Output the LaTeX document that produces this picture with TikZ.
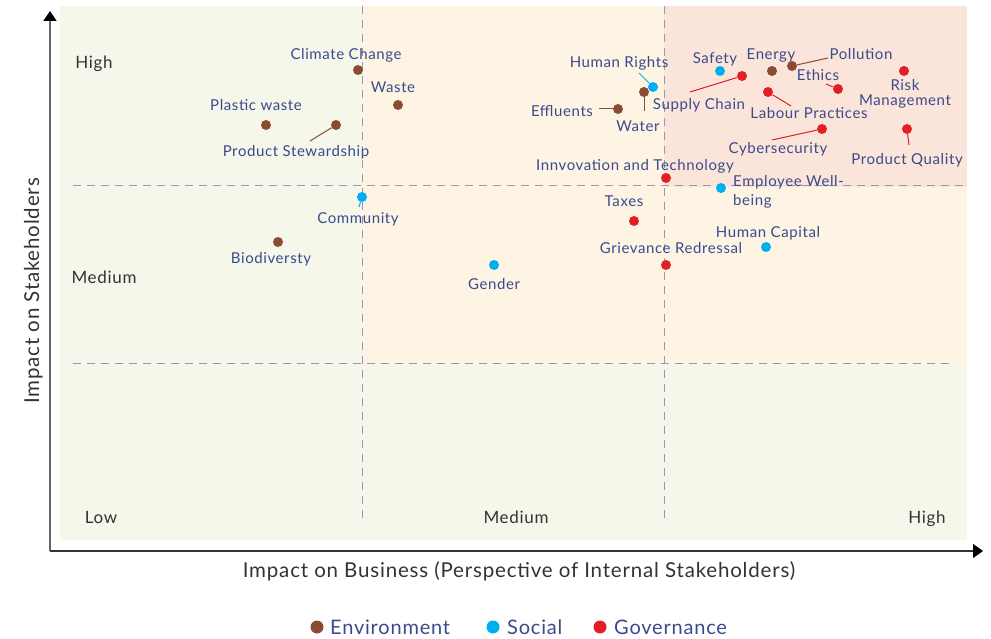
\documentclass[tikz,border=0pt]{standalone}
\usepackage{fontspec}
\setmainfont{Lato}[LetterSpace=4.0]
\usetikzlibrary{arrows.meta}
\definecolor{navy}{HTML}{3B4A8C}
\definecolor{envc}{HTML}{8B4A32}
\definecolor{socc}{HTML}{00AEEF}
\definecolor{govc}{HTML}{E31E26}
\definecolor{bggreen}{HTML}{F4F7EA}
\definecolor{bgorange}{HTML}{FEF4E4}
\definecolor{bgpink}{HTML}{FBE5DA}
\definecolor{dashc}{HTML}{9A97B6}
\definecolor{cornc}{HTML}{333333}
\tikzset{
  dot/.style={circle,inner sep=0pt,minimum size=10pt,draw=none},
  env/.style={dot,fill=envc},
  soc/.style={dot,fill=socc},
  gov/.style={dot,fill=govc},
  legdot/.style={circle,inner sep=0pt,minimum size=13pt,draw=none},
  lbl/.style={text=navy,font=\fontsize{15}{15}\selectfont,inner sep=0pt,text height=8pt,text depth=4pt,yshift=-4pt},
  mlbl/.style={text=navy,inner sep=0pt,yshift=-2pt},
  corner/.style={text=cornc,font=\fontsize{17}{19}\selectfont,inner sep=0pt,text height=8pt,text depth=4pt,yshift=-4.5pt},
  axt/.style={text=cornc,font=\fontsize{20.5}{22}\selectfont,inner sep=0pt,text height=10pt,text depth=4pt},
  legt/.style={text=navy,font=\fontsize{20}{22}\selectfont,inner sep=0pt,text height=10pt,text depth=4pt,anchor=west},
  envline/.style={draw=envc,line width=1pt},
  socline/.style={draw=socc,line width=1pt},
  govline/.style={draw=govc,line width=1pt},
  dashline/.style={draw=dashc,line width=1pt,dash pattern=on 8pt off 6pt},
}
\begin{document}
\begin{tikzpicture}[x=1pt,y=-1pt]
\useasboundingbox (0,0) rectangle (991,639);
% backgrounds
\fill[bggreen] (60,6) rectangle (967,540);
\fill[bgorange] (362,6) rectangle (967,363);
\fill[bgpink] (664,6) rectangle (967,187);
% dashed grid
\draw[dashline] (73,186) -- (965,186);
\draw[dashline] (73,363) -- (955,363);
\draw[dashline] (362,6) -- (362,523);
\draw[dashline] (664,6) -- (664,523);
% axes
\coordinate (org) at (50,551);
\coordinate (ytip) at (50,11);
\coordinate (xtip) at (983,551);
\draw[draw=black!60,line width=1.6pt,-{Triangle[length=10pt,width=13pt,color=black]}] (org) -- (ytip);
\draw[draw=black!80,line width=1.4pt,-{Triangle[length=10pt,width=14pt,color=black]}] (org) -- (xtip);
\node[axt,rotate=90] (yt) at (36,291) {Impact on Stakeholders};
\node[axt] (xt) at (519,574) {Impact on Business (Perspective of Internal Stakeholders)};
% corner labels
\node[corner] (yhigh) at (94,62) {High};
\node[corner] (ymed) at (104,277) {Medium};
\node[corner] (xlow) at (101,517) {Low};
\node[corner] (xmed) at (516,517) {Medium};
\node[corner] (xhigh) at (927,517) {High};

% Environment
\node[env] (cc) at (358,70) {};
\node[lbl] (ccl) at (346,54) {Climate Change};
\node[env] (wa) at (398,105) {};
\node[lbl] (wal) at (393,87) {Waste};
\node[env] (pw) at (266,125) {};
\node[lbl] (pwl) at (256,105) {Plastic waste};
\node[env] (ps) at (336,125) {};
\node[lbl] (psl) at (296,151) {Product Stewardship};
\coordinate (pse) at (310,141);
\draw[envline] (ps) -- (pse);
\node[env] (bd) at (278,242) {};
\node[lbl] (bdl) at (271,258) {Biodiversty};
\node[env] (ef) at (618,109) {};
\node[lbl] (efl) at (562,111) {Effluents};
\coordinate (efe) at (599,109);
\draw[envline] (ef) -- (efe);
\node[env] (wt) at (644,92) {};
\node[lbl] (wtl) at (638,126) {Water};
\coordinate (wte) at (644,111);
\draw[envline] (wt) -- (wte);
\node[env] (en) at (772,71) {};
\node[lbl] (enl) at (771,54) {Energy};
\node[env] (po) at (792,66) {};
\node[lbl] (pol) at (861,54) {Pollution};
\coordinate (poe) at (828,58);
\draw[envline] (po) -- (poe);

% Social
\node[soc] (hr) at (653,87) {};
\node[lbl] (hrl) at (619,62) {Human Rights};
\coordinate (hre) at (639,73);
\draw[socline] (hr) -- (hre);
\node[soc] (sa) at (720,71) {};
\node[lbl] (sal) at (715,58) {Safety};
\node[soc] (co) at (362,197) {};
\node[lbl] (col) at (358,218) {Community};
\coordinate (coe) at (359,207);
\draw[socline] (co) -- (coe);
\node[soc] (ew) at (721,188) {};
\node[mlbl,align=left,anchor=west,font=\fontsize{15}{18.5}\selectfont] (ewl) at (733,190) {Employee Well-\\being};
\node[soc] (hc) at (766,247) {};
\node[lbl] (hcl) at (768,232) {Human Capital};
\node[soc] (ge) at (494,265) {};
\node[lbl] (gel) at (494,284) {Gender};

% Governance
\node[gov] (sc) at (742,76) {};
\node[lbl] (scl) at (699,104) {Supply Chain};
\coordinate (sce) at (690,92);
\draw[govline] (sc) -- (sce);
\node[gov] (et) at (838,89) {};
\node[lbl] (etl) at (818,75) {Ethics};
\coordinate (ete) at (826,84);
\draw[govline] (et) -- (ete);
\node[gov] (rm) at (904,71) {};
\node[mlbl,align=center,font=\fontsize{15}{15.5}\selectfont] (rml) at (905,92) {Risk\\Management};
\node[gov] (lp) at (768,92) {};
\node[lbl] (lpl) at (809,113) {Labour Practices};
\coordinate (lpe) at (791,106);
\draw[govline] (lp) -- (lpe);
\node[gov] (cy) at (822,129) {};
\node[lbl] (cyl) at (778,148) {Cybersecurity};
\coordinate (cye) at (772,140);
\draw[govline] (cy) -- (cye);
\node[gov] (pq) at (907,129) {};
\node[lbl] (pql) at (907,159) {Product Quality};
\coordinate (pqe) at (909,145);
\draw[govline] (pq) -- (pqe);
\node[gov] (it) at (666,178) {};
\node[lbl] (itl) at (635,165) {Innvovation and Technology};
\node[gov] (tx) at (634,221) {};
\node[lbl] (txl) at (624,201) {Taxes};
\node[gov] (gr) at (666,265) {};
\node[lbl] (grl) at (671,248) {Grievance Redressal};

% Legend
\node[legdot,fill=envc] (le) at (317,627) {};
\node[legt] (let) at (330,631) {Environment};
\node[legdot,fill=socc] (ls) at (493,627) {};
\node[legt] (lst) at (507,631) {Social};
\node[legdot,fill=govc] (lg) at (600,627) {};
\node[legt] (lgt) at (614,631) {Governance};
\end{tikzpicture}
\end{document}
